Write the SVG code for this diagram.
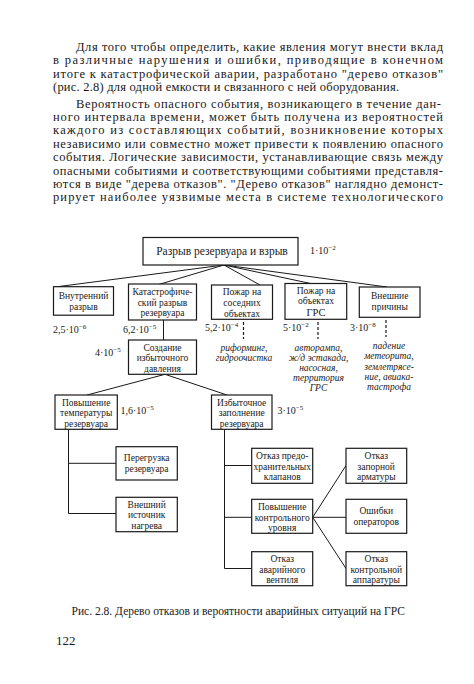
<svg xmlns="http://www.w3.org/2000/svg" width="474" height="684" viewBox="0 0 474 684">
<style>
.body{font-family:"Liberation Serif","Times New Roman",serif;font-size:12.5px;fill:#1a1a1a}
.t{font-family:"Liberation Serif","Times New Roman",serif;font-size:9.5px;fill:#1a1a1a;text-anchor:middle}
.n{font-family:"Liberation Serif","Times New Roman",serif;font-size:10px;fill:#1a1a1a}
.s{font-size:7px}
.i{font-family:"Liberation Serif","Times New Roman",serif;font-size:9.5px;font-style:italic;fill:#1a1a1a;text-anchor:middle}
.box{fill:#fff;stroke:#1a1a1a;stroke-width:1.2}
.ln{fill:none;stroke:#1a1a1a;stroke-width:1}
.dash{fill:none;stroke:#1a1a1a;stroke-width:1.2;stroke-dasharray:3 2}
</style>
<rect width="474" height="684" fill="#fff"/>
<g id="text">
<text class="body" x="76" y="51" textLength="367" lengthAdjust="spacing">Для того чтобы определить, какие явления могут внести вклад</text>
<text class="body" x="53" y="64.4" textLength="390" lengthAdjust="spacing">в различные нарушения и ошибки, приводящие в конечном</text>
<text class="body" x="53" y="77.8" textLength="390" lengthAdjust="spacing">итоге к катастрофической аварии, разработано "дерево отказов"</text>
<text class="body" x="53" y="91.2" textLength="346" lengthAdjust="spacing">(рис. 2.8) для одной емкости и связанного с ней оборудования.</text>
<text class="body" x="76" y="107.5" textLength="365" lengthAdjust="spacing">Вероятность опасного события, возникающего в течение дан-</text>
<text class="body" x="53" y="120.9" textLength="390" lengthAdjust="spacing">ного интервала времени, может быть получена из вероятностей</text>
<text class="body" x="53" y="134.3" textLength="390" lengthAdjust="spacing">каждого из составляющих событий, возникновение которых</text>
<text class="body" x="53" y="147.7" textLength="390" lengthAdjust="spacing">независимо или совместно может привести к появлению опасного</text>
<text class="body" x="53" y="161.1" textLength="390" lengthAdjust="spacing">события. Логические зависимости, устанавливающие связь между</text>
<text class="body" x="53" y="174.5" textLength="390" lengthAdjust="spacing">опасными событиями и соответствующими событиями представля-</text>
<text class="body" x="53" y="187.9" textLength="390" lengthAdjust="spacing">ются в виде "дерева отказов". "Дерево отказов" наглядно демонст-</text>
<text class="body" x="53" y="201.3" textLength="390" lengthAdjust="spacing">рирует наиболее уязвимые места в системе технологического</text>
</g>
<g id="connectors">
<path class="ln" d="M224 265 L55 287 M224 265 L157 285 M224 265 L260 285 M224 265 L313 284 M224 265 L387 287"/>
<path class="ln" d="M163.5 320 V340"/>
<path class="dash" d="M243.5 322 V339 M318 322 V339 M386 320 V337"/>
<path class="ln" d="M165 374.3 L87 395 M165 374.3 L227 395"/>
<path class="ln" d="M68.5 429.3 V513.5 M68.5 463.3 H116 M68.5 513.5 H116"/>
<path class="ln" d="M224.5 429.3 V568.5 M224.5 465.5 H251.7 M224.5 517.3 H251.7 M224.5 568.5 H251.7"/>
<path class="ln" d="M312.7 517.3 L346 465.5 M312.7 517.3 H346 M312.7 517.3 L346 568.5"/>
</g>
<g id="n0"><rect class="box" x="143" y="237.5" width="155" height="27.5"/><text class="t" x="222" y="255" style="font-size:11.5px">Разрыв резервуара и взрыв</text><text class="n" x="310" y="254">1·10<tspan class="s" dy="-4">−2</tspan></text></g>
<g id="n1"><rect class="box" x="53.5" y="286.7" width="60" height="28.5"/><text class="t" x="83.5" y="298.5">Внутренний</text><text class="t" x="83.5" y="309.5">разрыв</text><text class="n" x="53" y="333">2,5·10<tspan class="s" dy="-4">−6</tspan></text></g>
<g id="n2"><rect class="box" x="128.5" y="284" width="68" height="36"/><text class="t" x="162.5" y="294.5">Катастрофиче-</text><text class="t" x="162.5" y="305.5">ский разрыв</text><text class="t" x="162.5" y="316">резервуара</text><text class="n" x="123" y="333">6,2·10<tspan class="s" dy="-4">−5</tspan></text></g>
<g id="n3"><rect class="box" x="211.5" y="285" width="61" height="34.3"/><text class="t" x="242" y="295">Пожар на</text><text class="t" x="242" y="306">соседних</text><text class="t" x="242" y="316.5">объектах</text><text class="n" x="205" y="331">5,2·10<tspan class="s" dy="-4">−4</tspan></text><text class="i" x="244" y="351">риформинг,</text><text class="i" x="244" y="361">гидроочистка</text></g>
<g id="n4"><rect class="box" x="285" y="283.5" width="61.7" height="35.8"/><text class="t" x="316" y="293.5">Пожар на</text><text class="t" x="316" y="304">объектах</text><text class="t" x="316" y="315.5" style="font-size:10.5px">ГРС</text><text class="n" x="283" y="331">5·10<tspan class="s" dy="-4">−2</tspan></text><text class="i" x="318.5" y="351">авторампа,</text><text class="i" x="318.5" y="361">ж/д эстакада,</text><text class="i" x="318.5" y="371">насосная,</text><text class="i" x="318.5" y="381">территория</text><text class="i" x="318.5" y="391">ГРС</text></g>
<g id="n5"><rect class="box" x="359.3" y="287" width="60.7" height="30.3"/><text class="t" x="389.7" y="299">Внешние</text><text class="t" x="389.7" y="309.5">причины</text><text class="n" x="350" y="331">3·10<tspan class="s" dy="-4">−8</tspan></text><text class="i" x="389" y="349">падение</text><text class="i" x="389" y="359">метеорита,</text><text class="i" x="389" y="369.5">землетрясе-</text><text class="i" x="389" y="379.5">ние, авиака-</text><text class="i" x="389" y="390">тастрофа</text></g>
<g id="n6"><rect class="box" x="128.5" y="340" width="68" height="34.3"/><text class="t" x="162.5" y="350.5">Создание</text><text class="t" x="162.5" y="361">избыточного</text><text class="t" x="162.5" y="371.5">давления</text><text class="n" x="95" y="356">4·10<tspan class="s" dy="-4">−5</tspan></text></g>
<g id="n7"><rect class="box" x="55" y="395" width="62.3" height="34.3"/><text class="t" x="86.2" y="405.5">Повышение</text><text class="t" x="86.2" y="416">температуры</text><text class="t" x="86.2" y="426.5">резервуара</text><text class="n" x="120.5" y="414">1,6·10<tspan class="s" dy="-4">−5</tspan></text></g>
<g id="n8"><rect class="box" x="211.5" y="395" width="60.5" height="34.3"/><text class="t" x="241.7" y="405.5">Избыточное</text><text class="t" x="241.7" y="416">заполнение</text><text class="t" x="241.7" y="426.5">резервуара</text><text class="n" x="277.5" y="414">3·10<tspan class="s" dy="-4">−5</tspan></text></g>
<g id="n9"><rect class="box" x="116" y="446.7" width="61.3" height="33.3"/><text class="t" x="146.7" y="460.5">Перегрузка</text><text class="t" x="146.7" y="471.5">резервуара</text></g>
<g id="n10"><rect class="box" x="116" y="497.3" width="61.3" height="34.4"/><text class="t" x="146.7" y="507.5">Внешний</text><text class="t" x="146.7" y="518">источник</text><text class="t" x="146.7" y="528.5">нагрева</text></g>
<g id="n11"><rect class="box" x="251.7" y="448.3" width="61" height="35"/><text class="t" x="282.2" y="459">Отказ предо-</text><text class="t" x="282.2" y="469.5">хранительных</text><text class="t" x="282.2" y="480">клапанов</text></g>
<g id="n12"><rect class="box" x="251.7" y="499.3" width="61" height="34"/><text class="t" x="282.2" y="510">Повышение</text><text class="t" x="282.2" y="520.5">контрольного</text><text class="t" x="282.2" y="531">уровня</text></g>
<g id="n13"><rect class="box" x="251.7" y="551.7" width="61" height="34"/><text class="t" x="282.2" y="562">Отказ</text><text class="t" x="282.2" y="572.5">аварийного</text><text class="t" x="282.2" y="583">вентиля</text></g>
<g id="n14"><rect class="box" x="346" y="448.3" width="60.7" height="35"/><text class="t" x="376.3" y="459">Отказ</text><text class="t" x="376.3" y="469.5">запорной</text><text class="t" x="376.3" y="480">арматуры</text></g>
<g id="n15"><rect class="box" x="346" y="499.3" width="60.7" height="34"/><text class="t" x="376.3" y="513.5">Ошибки</text><text class="t" x="376.3" y="524.5">операторов</text></g>
<g id="n16"><rect class="box" x="346" y="551.7" width="60.7" height="34"/><text class="t" x="376.3" y="562">Отказ</text><text class="t" x="376.3" y="572.5">контрольной</text><text class="t" x="376.3" y="583">аппаратуры</text></g>
<g id="caption">
<text class="body" x="71.5" y="614.5" style="font-size:11.5px" textLength="333.5" lengthAdjust="spacing">Рис. 2.8. Дерево отказов и вероятности аварийных ситуаций на ГРС</text>
<text class="body" x="56" y="645" style="font-size:13px">122</text>
</g>
</svg>
